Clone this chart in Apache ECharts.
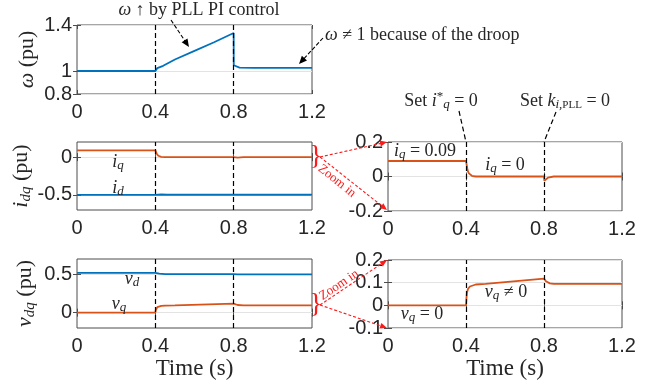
<!DOCTYPE html>
<html>
<head>
<meta charset="utf-8">
<script src="https://cdn.jsdelivr.net/npm/echarts@6/dist/echarts.min.js"></script>
<style>
  html, body { margin: 0; padding: 0; background: #fff; }
  #chart { width: 659px; height: 383px; }
</style>
</head>
<body>
<div id="chart"></div>
<script>
// shared time axis
const timeTicks = [0, 0.4, 0.8, 1.2]
const eventTimes = [0.4, 0.8]

// omega (pu)
const omegaT = [0, 0.4, 0.405, 0.41, 0.42, 0.44, 0.5, 0.6, 0.7, 0.8, 0.8005, 0.81, 0.83, 0.9, 1.2]
const omegaV = [1, 1, 1.015, 1.025, 1.035, 1.045, 1.1, 1.175, 1.25, 1.33, 1.05, 1.035, 1.03, 1.028, 1.028]

// i_q and i_d (pu)
const iqT = [0, 0.4, 0.403, 0.407, 0.41, 0.415, 0.42, 0.43, 0.45, 0.8, 0.8015, 0.805, 0.81, 0.82, 0.83, 0.85, 1.2]
const iqV = [0.09, 0.09, 0.07, 0.045, 0.03, 0.018, 0.01, 0.004, 0, 0, -0.025, -0.021, -0.014, -0.007, -0.003, 0, 0]
const idT = [0, 0.4, 0.41, 0.43, 0.46, 1.2]
const idV = [-0.5, -0.5, -0.492, -0.495, -0.498, -0.498]

// v_d and v_q (pu)
const vdT = [0, 0.4, 0.42, 0.45, 0.8, 0.82, 1.2]
const vdV = [0.52, 0.52, 0.508, 0.503, 0.503, 0.5, 0.5]
const vqT = [0, 0.4, 0.402, 0.405, 0.41, 0.42, 0.43, 0.45, 0.5, 0.8, 0.805, 0.81, 0.82, 0.83, 0.85, 1.2]
const vqV = [0, 0, 0.03, 0.055, 0.072, 0.083, 0.088, 0.092, 0.095, 0.118, 0.113, 0.106, 0.1, 0.097, 0.095, 0.095]

// y tick labels
const omegaTicks = [0.8, 1, 1.4]
const idqTicks = [-0.5, 0]
const vdqTicks = [0, 0.5]
const idqZoomTicks = [-0.2, 0, 0.2]
const vdqZoomTicks = [-0.1, 0, 0.1, 0.2]

const blue = '#0072BD'
const orange = '#D95319'
const ink = '#262626'
const frame = '#4d4d4d'
const red = '#ff1a1a'
const sans = 'Liberation Sans'
const serif = 'Liberation Serif'

const pts = (t, v) => t.map((x, i) => [x, v[i]])

const rich = (size) => ({
  it: { fontFamily: serif, fontStyle: 'italic', fontSize: size, color: ink },
  sub: { fontFamily: serif, fontStyle: 'italic', fontSize: Math.round(size * 0.7), color: ink, padding: [Math.round(size * 0.45), 0, 0, 0] },
  subr: { fontFamily: serif, fontSize: Math.round(size * 0.6), color: ink, padding: [Math.round(size * 0.45), 0, 0, 0] },
  sup: { fontFamily: serif, fontSize: Math.round(size * 0.7), color: ink, padding: [0, 0, Math.round(size * 0.5), 0] }
})

const grids = [
  { left: 77, top: 25, width: 235, height: 69 },
  { left: 77, top: 142, width: 235, height: 68 },
  { left: 77, top: 259, width: 235, height: 69 },
  { left: 388, top: 142, width: 234, height: 69 },
  { left: 388, top: 260, width: 234, height: 68 }
]

const tick = { inside: true, length: 4, lineStyle: { color: frame } }

const xAxes = grids.map((g, i) => ({
  type: 'value', gridIndex: i, min: 0, max: 1.2,
  axisLine: { show: false },
  axisTick: Object.assign({ customValues: timeTicks }, tick),
  axisLabel: { customValues: timeTicks, margin: 8, fontFamily: sans, fontSize: 20, color: ink },
  splitLine: { show: false },
  name: (i === 2 || i === 4) ? 'Time (s)' : '',
  nameLocation: 'middle', nameGap: 29,
  nameTextStyle: { fontFamily: serif, fontSize: 23, color: ink }
}))
// mirrored ticks on the top edge (box on)
const xTop = grids.map((g, i) => ({
  type: 'value', gridIndex: i, min: 0, max: 1.2, position: 'top',
  axisLine: { show: false }, axisLabel: { show: false }, splitLine: { show: false },
  axisTick: Object.assign({ customValues: timeTicks }, tick)
}))

function yAxis(i, min, max, ticks, name) {
  return {
    type: 'value', gridIndex: i, min, max,
    axisLine: { show: false },
    axisTick: Object.assign({ customValues: ticks }, tick),
    axisLabel: { customValues: ticks, margin: 5, fontFamily: sans, fontSize: 20, color: ink },
    splitLine: { show: true, lineStyle: { color: '#e3e3e3', width: 1 } },
    name, nameLocation: 'middle', nameRotate: 90, nameGap: 39,
    nameTextStyle: { fontFamily: serif, fontSize: 22, color: ink, rich: rich(22) }
  }
}
function yRight(i, min, max, ticks) {
  return {
    type: 'value', gridIndex: i, min, max, position: 'right',
    axisLine: { show: false }, axisLabel: { show: false }, splitLine: { show: false },
    axisTick: Object.assign({ customValues: ticks }, tick)
  }
}

const yAxes = [
  yAxis(0, 0.8, 1.4, omegaTicks, '{it|ω} (pu)'),
  yAxis(1, -0.7, 0.2, idqTicks, '{it|i}{sub|dq} (pu)'),
  yAxis(2, -0.2, 0.7, vdqTicks, '{it|v}{sub|dq} (pu)'),
  yAxis(3, -0.2, 0.2, idqZoomTicks, ''),
  yAxis(4, -0.1, 0.2, vdqZoomTicks, ''),
  yRight(0, 0.8, 1.4, omegaTicks),
  yRight(1, -0.7, 0.2, idqTicks),
  yRight(2, -0.2, 0.7, vdqTicks),
  yRight(3, -0.2, 0.2, idqZoomTicks),
  yRight(4, -0.1, 0.2, vdqZoomTicks)
]

const events = {
  silent: true, symbol: ['none', 'none'], label: { show: false },
  lineStyle: { color: '#000', type: [5, 3], width: 1.2 },
  data: eventTimes.map(x => ({ xAxis: x }))
}

function line(i, t, v, color, withEvents) {
  return {
    type: 'line', xAxisIndex: i, yAxisIndex: i, data: pts(t, v),
    showSymbol: false, symbol: 'none', lineStyle: { color, width: 1.8 },
    markLine: withEvents ? events : undefined
  }
}

const series = [
  line(0, omegaT, omegaV, blue, true),
  line(1, iqT, iqV, orange, true),
  line(1, idT, idV, blue, false),
  line(2, vdT, vdV, blue, true),
  line(2, vqT, vqV, orange, false),
  line(3, iqT, iqV, orange, true),
  line(4, vqT, vqV, orange, true)
]

// annotation helpers
function note(x, y, text, size, align, extra) {
  return Object.assign({
    type: 'text', x, y, z: 50,
    style: {
      text, rich: rich(size), fontFamily: serif, fontSize: size, fill: ink,
      align: align || 'center', textAlign: align || 'center',
      verticalAlign: 'middle', textVerticalAlign: 'middle'
    }
  }, extra || {})
}

function arrow(x1, y1, x2, y2, color, dash, head) {
  const dx = x2 - x1, dy = y2 - y1, len = Math.hypot(dx, dy)
  const ux = dx / len, uy = dy / len
  const hl = head ? head[0] : 8, hw = head ? head[1] : 3.5
  const bx = x2 - ux * hl, by = y2 - uy * hl
  return [{
    type: 'line', z: 50,
    shape: { x1, y1, x2: bx + ux * 2, y2: by + uy * 2 },
    style: { stroke: color, lineWidth: 1.1, lineDash: dash }
  }, {
    type: 'polygon', z: 50,
    shape: { points: [[x2, y2], [bx - uy * hw, by + ux * hw], [bx + uy * hw, by - ux * hw]] },
    style: { fill: color }
  }]
}

function dashOnly(x1, y1, x2, y2) {
  return {
    type: 'line', z: 50, shape: { x1, y1, x2, y2 },
    style: { stroke: '#000', lineWidth: 1.2, lineDash: [5, 3] }
  }
}

function redText(x, y, text, size, rotation) {
  return {
    type: 'text', x, y, z: 50, rotation: rotation || 0,
    style: { text, fontFamily: serif, fontSize: size, fill: red, align: 'center', textAlign: 'center', verticalAlign: 'middle', textVerticalAlign: 'middle' }
  }
}

const graphics = [
  note(199, 10, '{it|ω} ↑ by PLL PI control', 18),
  ...arrow(171, 20, 189, 47, '#000', [4, 2]),
  note(325, 35, '{it|ω} ≠ 1 because of the droop', 18, 'left'),
  ...arrow(323, 38, 299, 64, '#000', [4, 2]),

  note(441, 101, 'Set {it|i}{sup|*}{sub|q} = 0', 18),
  dashOnly(459, 111, 466, 142),
  note(565, 101, 'Set {it|k}{sub|i,}{subr|PLL} = 0', 18),
  dashOnly(556, 112, 544, 142),

  note(118, 162, '{it|i}{sub|q}', 18),
  note(118, 188, '{it|i}{sub|d}', 18),
  note(132, 279, '{it|v}{sub|d}', 18),
  note(119, 304, '{it|v}{sub|q}', 18),

  note(425, 151, '{it|i}{sub|q} = 0.09', 18),
  note(505, 165, '{it|i}{sub|q} = 0', 18),
  note(506, 292, '{it|v}{sub|q} ≠ 0', 18),
  note(422, 314, '{it|v}{sub|q} = 0', 18),

  // zoom-in links
  redText(316, 157, '}', 28),
  ...arrow(320, 157, 387, 142, red, [3, 2], [7, 3]),
  ...arrow(320, 157, 387, 210, red, [3, 2], [7, 3]),
  redText(337, 181, 'Zoom in', 13, -0.68),

  redText(316, 305, '}', 28),
  ...arrow(320, 305, 387, 260, red, [3, 2], [7, 3]),
  ...arrow(320, 305, 387, 328, red, [3, 2], [7, 3]),
  redText(339, 285, 'Zoom in', 13, 0.59)
]

const chart = echarts.init(document.getElementById('chart'))
chart.setOption({
  animation: false,
  backgroundColor: '#fff',
  grid: grids.map(g => Object.assign({ show: true, borderColor: frame, borderWidth: 1, backgroundColor: 'transparent' }, g)),
  xAxis: xAxes.concat(xTop),
  yAxis: yAxes,
  series,
  graphic: graphics
})
</script>
</body>
</html>
